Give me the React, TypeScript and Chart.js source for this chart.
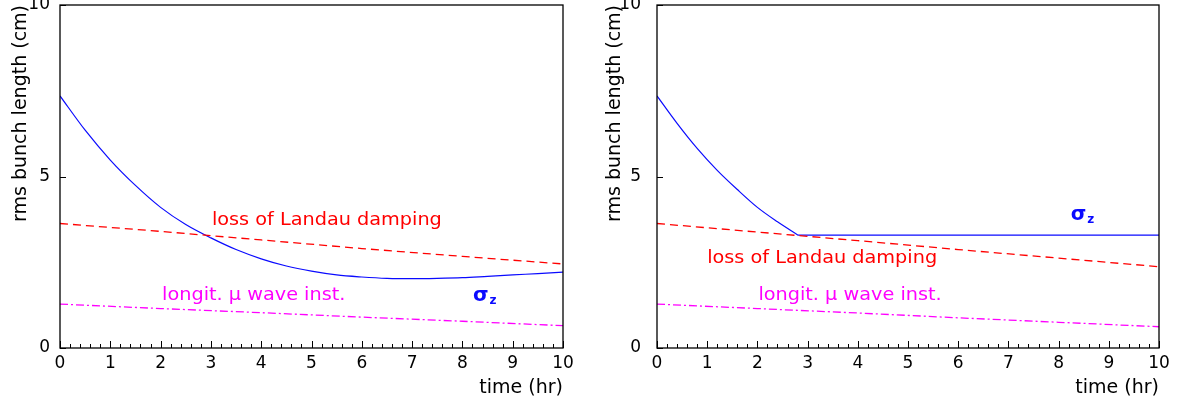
import React, { useEffect, useRef } from "react";
import { Chart, registerables } from "chart.js";

Chart.register(...registerables);

// ---- data (time in hr, length in cm) ----
const sigmaLeftX = [0, 0.5, 1, 1.5, 2, 2.5, 3, 3.5, 4, 4.5, 5, 5.5, 6, 6.5, 7, 7.5, 8, 8.5, 9, 9.5, 10];
const sigmaLeftY = [7.35, 6.35, 5.48, 4.74, 4.1, 3.6, 3.21, 2.87, 2.6, 2.39, 2.24, 2.13, 2.07, 2.03, 2.02, 2.03, 2.05, 2.09, 2.13, 2.17, 2.21];
const lineX = [0, 2, 4, 6, 8, 10];
const landauLeftY = [3.63, 3.4, 3.15, 2.9, 2.67, 2.45];
const microLeftY = [1.28, 1.15, 1.03, 0.9, 0.78, 0.65];

const sigmaRightCurveX = [0, 0.4, 0.8, 1.2, 1.6, 2.0, 2.4, 2.81];
const sigmaRightCurveY = [7.35, 6.55, 5.82, 5.18, 4.62, 4.1, 3.68, 3.29];
const sigmaRightFlatX = [2.81, 10];
const sigmaRightFlatY = [3.29, 3.29];
const landauRightY = [3.63, 3.38, 3.13, 2.87, 2.62, 2.37];
const microRightY = [1.28, 1.15, 1.02, 0.88, 0.75, 0.62];

const X_MIN = 0, X_MAX = 10, X_STEP = 1, X_MINOR = 0.2;
const Y_MIN = 0, Y_MAX = 10, Y_STEP = 5;
const X_TITLE = "time (hr)";
const Y_TITLE = "rms bunch length (cm)";

const LANDAU_TEXT = "loss of Landau damping";
const MICRO_TEXT = "longit. \u03bc wave inst.";

// annotation anchors: [x (hr), y (cm)] = left edge / vertical middle of text
const leftLabels = [
  { text: LANDAU_TEXT, x: 3.02, y: 3.72, color: "#ff0000" },
  { text: MICRO_TEXT, x: 2.03, y: 1.55, color: "#ff00ff" },
];
const leftSigma = { x: 8.21, y: 1.55 };
const rightLabels = [
  { text: LANDAU_TEXT, x: 1.0, y: 2.62, color: "#ff0000" },
  { text: MICRO_TEXT, x: 2.02, y: 1.55, color: "#ff00ff" },
];
const rightSigma = { x: 8.24, y: 3.9 };

const FONT = "'DejaVu Sans', 'Liberation Sans', sans-serif";
const BLUE = "#0a0aff";
const RED = "#ff0000";
const MAGENTA = "#ff00ff";

const pts = (xs: number[], ys: number[]) => xs.map((x, i) => ({ x, y: ys[i] }));

function makePlugin(labels: any[], sigma: any) {
  return {
    id: "frameAndText",
    afterDraw(chart: any) {
      const { ctx, chartArea } = chart;
      const { left, right, top, bottom } = chartArea;
      const xs = chart.scales.x;
      const ys = chart.scales.y;
      ctx.save();
      ctx.strokeStyle = "#000";
      ctx.lineWidth = 1.3;
      ctx.strokeRect(left, top, right - left, bottom - top);
      // inward ticks on x axis
      ctx.lineWidth = 1;
      ctx.beginPath();
      const n = Math.round((X_MAX - X_MIN) / X_MINOR);
      for (let i = 0; i <= n; i++) {
        const v = X_MIN + i * X_MINOR;
        const px = Math.round(xs.getPixelForValue(v)) + 0.5;
        const major = i % Math.round(X_STEP / X_MINOR) === 0;
        const len = major ? 7 : 4;
        ctx.moveTo(px, bottom);
        ctx.lineTo(px, bottom - len);
      }
      // inward ticks on y axis
      for (let v = Y_MIN; v <= Y_MAX; v += Y_STEP) {
        const py = Math.round(ys.getPixelForValue(v)) + 0.5;
        ctx.moveTo(left, py);
        ctx.lineTo(left + 6, py);
      }
      ctx.stroke();

      // text annotations
      ctx.textBaseline = "middle";
      ctx.textAlign = "left";
      const stretch = 1.07;
      for (const l of labels) {
        const px = xs.getPixelForValue(l.x);
        const py = ys.getPixelForValue(l.y);
        ctx.font = `18px ${FONT}`;
        ctx.fillStyle = l.color;
        ctx.save();
        ctx.translate(px, py);
        ctx.scale(stretch, 1);
        ctx.fillText(l.text, 0, 0);
        ctx.restore();
      }
      // sigma_z
      const sx = xs.getPixelForValue(sigma.x);
      const sy = ys.getPixelForValue(sigma.y);
      ctx.fillStyle = BLUE;
      ctx.textBaseline = "alphabetic";
      ctx.font = `bold 20px ${FONT}`;
      ctx.fillText("\u03c3", sx, sy + 6);
      const w = ctx.measureText("\u03c3").width;
      ctx.font = `bold 12px ${FONT}`;
      ctx.fillText("z", sx + w + 1, sy + 9);
      ctx.restore();
    },
  };
}

function makeConfig(datasets: any[], padRight: number, yWidth: number, yTickPad: number, yTitlePad: number, plugin: any) {
  return {
    type: "line",
    data: { datasets },
    plugins: [plugin],
    options: {
      animation: false,
      responsive: false,
      events: [],
      layout: { padding: { left: 0, right: padRight, top: 5, bottom: 0 } },
      plugins: { legend: { display: false }, tooltip: { enabled: false } },
      elements: { point: { radius: 0 } },
      scales: {
        x: {
          type: "linear",
          min: X_MIN,
          max: X_MAX,
          grid: { display: false, drawTicks: false },
          border: { display: false },
          ticks: { stepSize: X_STEP, color: "#000", padding: 5, maxRotation: 0, font: { family: FONT, size: 17 } },
          title: { display: true, text: X_TITLE, align: "end", color: "#000", padding: { top: 0, bottom: 6 }, font: { family: FONT, size: 19 } },
          afterFit: (s: any) => {
            s.height = 57;
            s.paddingLeft = 0;
            s.paddingRight = 0;
          },
        },
        y: {
          type: "linear",
          min: Y_MIN,
          max: Y_MAX,
          grid: { display: false, drawTicks: false },
          border: { display: false },
          ticks: { stepSize: Y_STEP, color: "#000", padding: yTickPad, font: { family: FONT, size: 17 } },
          title: { display: true, text: Y_TITLE, align: "end", color: "#000", padding: { top: yTitlePad, bottom: 0 }, font: { family: FONT, size: 19 } },
          afterFit: (s: any) => {
            s.width = yWidth;
            s.paddingTop = 0;
            s.paddingBottom = 0;
          },
        },
      },
    },
  };
}

function line(data: any[], color: string, dash: number[], width: number, mono: boolean) {
  return {
    data,
    borderColor: color,
    borderWidth: width,
    borderDash: dash,
    fill: false,
    pointRadius: 0,
    tension: 0,
    cubicInterpolationMode: mono ? "monotone" : "default",
  };
}

function Panel({ width, cfg }: { width: number; cfg: () => any }) {
  const ref = useRef<HTMLCanvasElement>(null);
  useEffect(() => {
    const chart = new Chart(ref.current as HTMLCanvasElement, cfg());
    return () => chart.destroy();
  }, []);
  return <canvas ref={ref} width={width} height={405} style={{ display: "block", width, height: 405 }} />;
}

const DASH = [8, 5];
const DASHDOT = [8, 3, 2, 3];

export default function App() {
  const leftCfg = () =>
    makeConfig(
      [
        line(pts(lineX, microLeftY), MAGENTA, DASHDOT, 1.3, false),
        line(pts(lineX, landauLeftY), RED, DASH, 1.3, false),
        line(pts(sigmaLeftX, sigmaLeftY), BLUE, [], 1.2, true),
      ],
      27,
      60,
      10,
      10,
      makePlugin(leftLabels, leftSigma)
    );
  const rightCfg = () =>
    makeConfig(
      [
        line(pts(lineX, microRightY), MAGENTA, DASHDOT, 1.3, false),
        line(pts(lineX, landauRightY), RED, DASH, 1.3, false),
        line(pts(sigmaRightCurveX, sigmaRightCurveY), BLUE, [], 1.2, true),
        line(pts(sigmaRightFlatX, sigmaRightFlatY), BLUE, [], 1.2, false),
      ],
      20,
      67,
      16,
      14,
      makePlugin(rightLabels, rightSigma)
    );
  return (
    <div style={{ position: "fixed", left: 0, top: 0, width: 1179, height: 405, background: "#fff", display: "flex" }}>
      <Panel width={590} cfg={leftCfg} />
      <Panel width={589} cfg={rightCfg} />
    </div>
  );
}
